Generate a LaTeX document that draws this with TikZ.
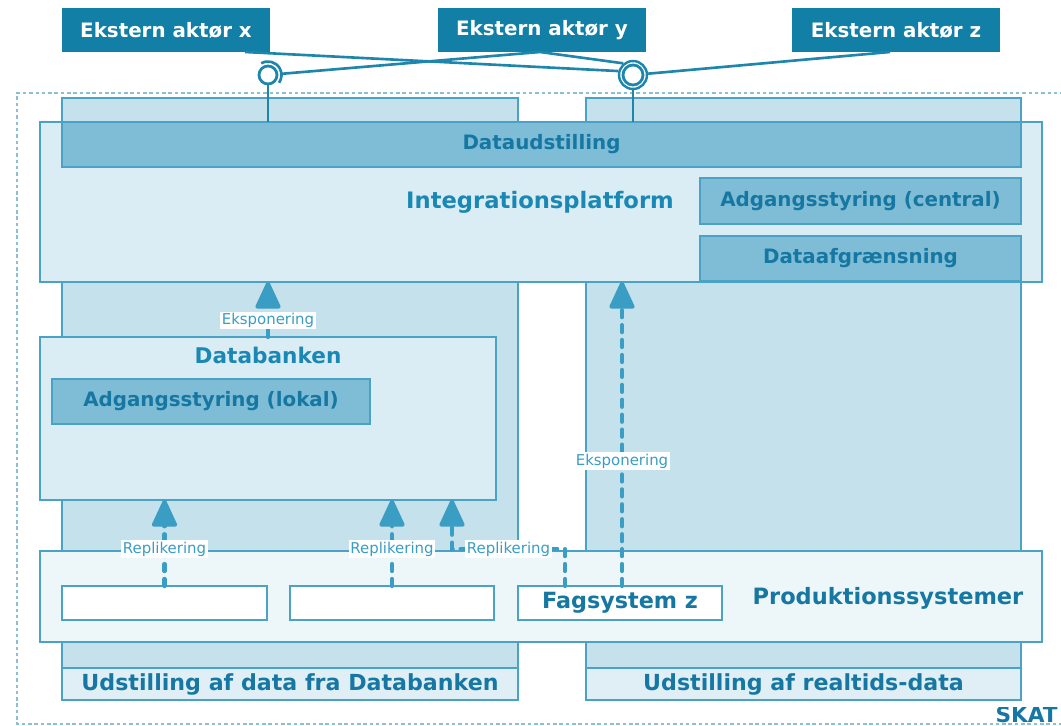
\documentclass[tikz,border=0pt]{standalone}
\usepackage{fontspec}
\setmainfont{DejaVu Sans}
\usepackage{tikz}
\usetikzlibrary{shapes,arrows.meta,backgrounds,positioning}

\definecolor{akteur}{HTML}{127FA6}
\definecolor{streg}{HTML}{1E86AD}
\definecolor{kant}{HTML}{4AA2C6}
\definecolor{soejle}{HTML}{C4E1EC}
\definecolor{lys}{HTML}{DBEDF4}
\definecolor{mellem}{HTML}{7FBDD6}
\definecolor{bund}{HTML}{EDF6F9}
\definecolor{udfyld}{HTML}{E0EFF5}
\definecolor{tekst}{HTML}{1577A2}
\definecolor{titel}{HTML}{1A88B4}
\definecolor{pil}{HTML}{3A9DC3}
\definecolor{ramme}{HTML}{8CBFD4}

\tikzset{
  felt/.style={draw=kant, line width=1.1pt, inner sep=0pt, outer sep=0pt},
  soejlefelt/.style={felt, fill=soejle},
  lysfelt/.style={felt, fill=lys},
  mellemfelt/.style={felt, fill=mellem, text=tekst, font=\fontsize{11.3}{13}\selectfont\bfseries},
  systemfelt/.style={felt, fill=white, text=tekst, font=\fontsize{12.7}{14}\selectfont\bfseries},
  udfelt/.style={felt, fill=udfyld, text=tekst, font=\fontsize{12.6}{14}\selectfont\bfseries},
  akteurfelt/.style={fill=akteur, text=white, inner sep=0pt, minimum width=4.16cm, minimum height=0.88cm,
    font=\fontsize{11.3}{13}\selectfont\bfseries},
  titeltekst/.style={text=titel, font=\fontsize{12.9}{15}\selectfont\bfseries},
  dashpil/.style={draw=pil, line width=2.4pt, line cap=round, dash pattern=on 4pt off 4.5pt,
    -{Triangle[width=15pt, length=17pt, round=false]}},
  pillabel/.style={fill=white, text=pil, inner sep=1pt, font=\fontsize{8.5}{9}\selectfont},
  lin/.style={draw=streg, line width=1.5pt}
}

\begin{document}
\begin{tikzpicture}[x=0.02cm, y=-0.02cm]
\useasboundingbox (0,0) rectangle (1061,726);

\draw [ramme, line width=0.9pt, dash pattern=on 2pt off 1.6pt] (1070,93) -- (17,93) -- (17,724) -- (1070,724);

\begin{scope}
\clip (985,707) rectangle (1061,726);
\node [anchor=base east, inner sep=0pt, text=tekst, font=\fontsize{12.3}{14}\selectfont\bfseries] (skat) at (1058,722) {SKAT};
\end{scope}

\node [soejlefelt, minimum width=9.12cm, minimum height=12.04cm] (colL) at (290,399) {};
\node [soejlefelt, minimum width=8.7cm, minimum height=12.04cm] (colR) at (803.5,399) {};
\node [udfelt, minimum width=9.12cm, minimum height=0.64cm] (udL) at (290,684) {Udstilling af data fra Databanken};
\node [udfelt, minimum width=8.7cm, minimum height=0.64cm] (udR) at (803.5,684) {Udstilling af realtids-data};

\node [lysfelt, minimum width=20.04cm, minimum height=3.2cm] (integ) at (541,202) {};
\node [mellemfelt, minimum width=19.18cm, minimum height=0.9cm] (dataud) at (541.5,144.5) {Dataudstilling};
\node [titeltekst] (integlbl) at (540,202) {Integrationsplatform};
\node [mellemfelt, minimum width=6.42cm, minimum height=0.92cm] (adgc) at (860.5,201) {Adgangsstyring (central)};
\node [mellemfelt, minimum width=6.42cm, minimum height=0.9cm] (dafg) at (860.5,258.5) {Dataafgrænsning};

\node [lysfelt, minimum width=9.12cm, minimum height=3.26cm] (dbank) at (268,418.5) {};
\node [titeltekst, font=\fontsize{12.3}{14}\selectfont\bfseries] (dbanklbl) at (268,355) {Databanken};
\node [mellemfelt, minimum width=6.36cm, minimum height=0.9cm] (adgl) at (211,401.5) {Adgangsstyring (lokal)};

\node [felt, fill=bund, minimum width=20.04cm, minimum height=1.82cm] (prod) at (541,596.5) {};
\node [titeltekst, text=tekst, font=\fontsize{12.8}{14}\selectfont\bfseries] (prodlbl) at (888,598) {Produktionssystemer};
\node [systemfelt, minimum width=4.1cm, minimum height=0.68cm] (sys1) at (164.5,603) {};
\node [systemfelt, minimum width=4.08cm, minimum height=0.68cm] (sys2) at (392,603) {};
\node [systemfelt, minimum width=4.08cm, minimum height=0.68cm] (fagz) at (620,603) {Fagsystem z};

\coordinate (r3a) at (565,586);
\coordinate (r3b) at (452,549);
\coordinate (e2) at (622,586);
\draw [dashpil] (dbank.north) -- node [pillabel, pos=0.3] {Eksponering} (dbank.north |- integ.south);
\draw [dashpil] (e2) -- node [pillabel, pos=0.41] {Eksponering} (e2 |- integ.south);
\draw [dashpil] (sys1.north) -- node [pillabel, pos=0.43] {Replikering} (sys1.north |- dbank.south);
\draw [dashpil] (sys2.north) -- node [pillabel, pos=0.43] {Replikering} (sys2.north |- dbank.south);
\draw [dashpil] (r3a) -- (r3a |- r3b) -- node [pillabel] {Replikering} (r3b) -- (r3b |- dbank.south);

\node [akteurfelt] (ax) at (166,30) {Ekstern aktør x};
\node [akteurfelt] (ay) at (542,30) {Ekstern aktør y};
\node [akteurfelt] (az) at (896,30) {Ekstern aktør z};
\coordinate (axo) at (245,52);
\coordinate (ayo) at (540,52);
\coordinate (azo) at (890,52);

\node [circle, draw=streg, line width=1.6pt, fill=white, minimum size=0.36cm, inner sep=0pt] (sx) at (268,75) {};
\node [circle, minimum size=0.54cm, inner sep=0pt] (sxo) at (268,75) {};
\draw [lin] (sx.center) ++(120:0.27cm) arc [start angle=120, end angle=-35, radius=0.27cm];
\node [circle, draw=streg, line width=1.6pt, fill=white, minimum size=0.4cm, inner sep=0pt] (sy) at (633,75) {};
\node [circle, draw=streg, line width=1.4pt, minimum size=0.56cm, inner sep=0pt] (syo) at (633,75) {};

\draw [lin] (axo) -- (syo.165);
\draw [lin] (ayo) -- (sxo.5);
\draw [lin] (ayo) -- (syo.130);
\draw [lin] (azo) -- (syo.5);
\draw [lin] (sx.south) -- (sx.south |- dataud.north);
\draw [lin] (syo.south) -- (syo.south |- dataud.north);
\end{tikzpicture}
\end{document}
